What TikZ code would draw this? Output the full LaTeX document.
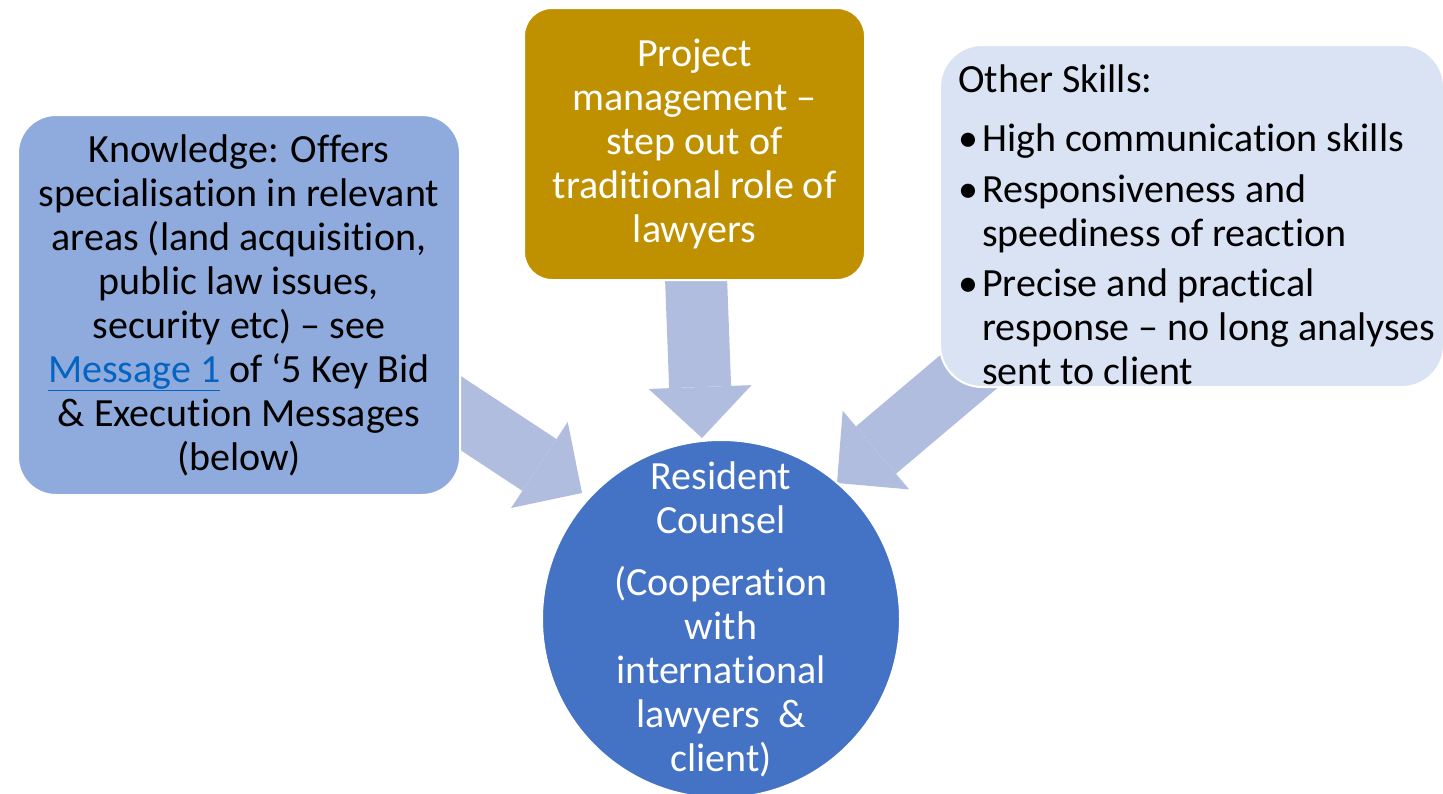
\documentclass[tikz,border=0pt]{standalone}
\usepackage{fontspec}
\setmainfont[Ligatures={TeX,NoCommon}]{Carlito}
\usetikzlibrary{arrows.meta,backgrounds}
\definecolor{knowfill}{HTML}{8FAADC}
\definecolor{projfill}{HTML}{BF9000}
\definecolor{skillfill}{HTML}{DAE3F3}
\definecolor{counselfill}{HTML}{4472C4}
\definecolor{flowfill}{HTML}{B0BDDF}
\definecolor{linkblue}{HTML}{0563C1}
\newcommand{\skbullet}{\makebox[24pt][l]{\textbullet}}
\newcommand{\skindent}{\hspace*{24pt}}

\begin{document}
\begin{tikzpicture}[x=1pt, y=-1pt,
    every node/.style={font=\fontsize{40}{44}\selectfont, inner sep=0pt},
    box/.style={draw=white, line width=2pt, rounded corners=#1},
    flow/.style={draw=flowfill, line width=62pt,
      -{Triangle[width=103pt, length=51pt, line width=0pt]}}
    ]
  \useasboundingbox (0,0) rectangle (1443,793);
  \clip (0,0) rectangle (1443,793);
  \node[box=38pt, fill=knowfill, minimum width=442pt, minimum height=380pt,
    align=center] (know) at (239,305)
    {Knowledge: Offers\\specialisation in relevant\\areas (land acquisition,\\
     public law issues,\\security etc) – see\\
     \textcolor{linkblue}{\underline{Message 1}} of ‘5 Key Bid\\
     \& Execution Messages\\(below)};
  \node[box=28pt, fill=projfill, minimum width=341pt, minimum height=272pt,
    text=white, align=center] (proj) at (694.5,144)
    {Project\\management –\\step out of\\traditional role of\\lawyers};
  \node[box=42pt, fill=skillfill, minimum width=504pt, minimum height=342pt]
    (skills) at (1192,216) {};
  \node[anchor=north west, align=left] (skilltext) at (958,65)
    {Other Skills:\\[15pt]
     \skbullet High communication skills\\[7pt]
     \skbullet Responsiveness and\\\skindent speediness of reaction\\[6pt]
     \skbullet Precise and practical\\\skindent response – no long analyses\\
     \skindent sent to client};
  \node[circle, draw=white, line width=2pt, fill=counselfill,
    minimum size=358pt] (counsel) at (721,619) {};
  \node[text=white, align=center] (counseltext) at (counsel.center)
    {Resident\\Counsel\\[18pt](Cooperation\\with\\international\\
     lawyers\ \ \&\\client)};

  \begin{scope}[on background layer]
    \coordinate (know-out) at (415,383);
    \coordinate (know-tip) at (582,493);
    \coordinate (proj-out) at (695,250);
    \coordinate (proj-tip) at (702,438);
    \coordinate (skill-out) at (1005,341);
    \coordinate (skill-tip) at (837,483);
    \draw[flow] (know-out) -- (know-tip);
    \draw[flow] (proj-out) -- (proj-tip);
    \draw[flow] (skill-out) -- (skill-tip);
  \end{scope}
\end{tikzpicture}
\end{document}
